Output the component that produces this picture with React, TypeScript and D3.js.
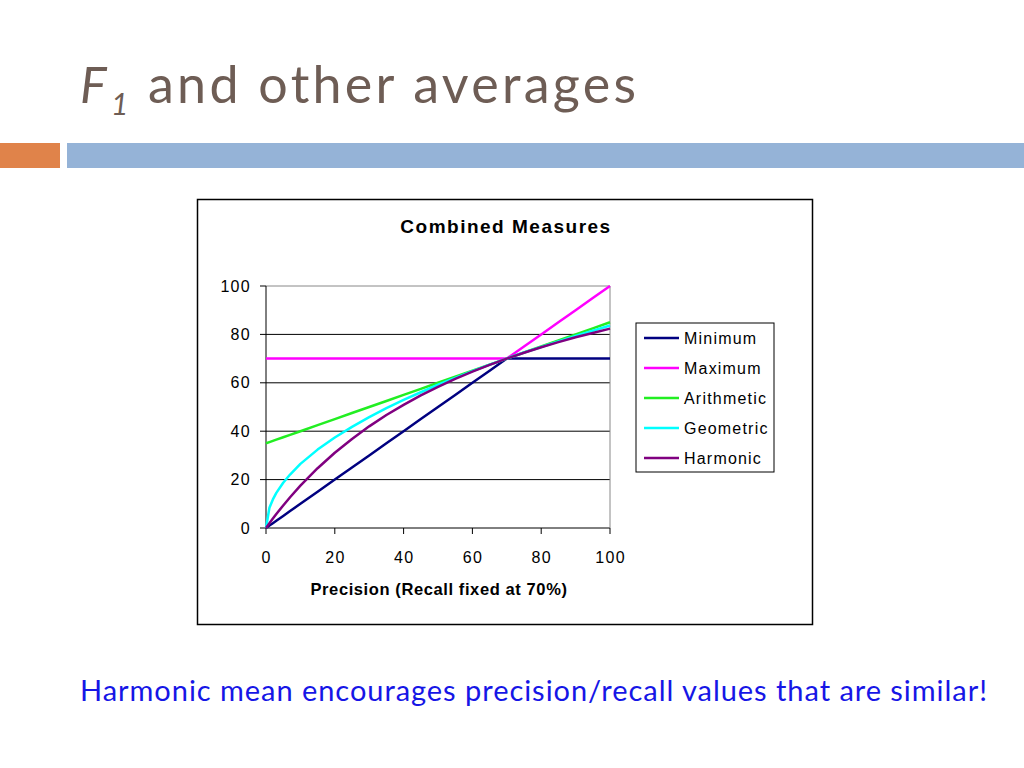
import React from "react";
import * as d3 from "d3";

const precision = [0, 1, 2, 3, 5, 7, 10, 15, 20, 25, 30, 35, 40, 45, 50, 55, 60, 65, 70, 75, 80, 85, 90, 95, 100];
const minimum = [0, 1, 2, 3, 5, 7, 10, 15, 20, 25, 30, 35, 40, 45, 50, 55, 60, 65, 70, 70, 70, 70, 70, 70, 70];
const maximum = [70, 70, 70, 70, 70, 70, 70, 70, 70, 70, 70, 70, 70, 70, 70, 70, 70, 70, 70, 75, 80, 85, 90, 95, 100];
const arithmetic = [35, 35.5, 36, 36.5, 37.5, 38.5, 40, 42.5, 45, 47.5, 50, 52.5, 55, 57.5, 60, 62.5, 65, 67.5, 70, 72.5, 75, 77.5, 80, 82.5, 85];
const geometric = [0, 8.4, 11.8, 14.5, 18.7, 22.1, 26.5, 32.4, 37.4, 41.8, 45.8, 49.5, 52.9, 56.1, 59.2, 62.0, 64.8, 67.5, 70, 72.5, 74.8, 77.1, 79.4, 81.5, 83.7];
const harmonic = [0, 2.0, 3.9, 5.8, 9.3, 12.7, 17.5, 24.7, 31.1, 36.8, 42.0, 46.7, 50.9, 54.8, 58.3, 61.6, 64.6, 67.4, 70, 72.4, 74.7, 76.8, 78.8, 80.6, 82.4];

const seriesNames = ["Minimum", "Maximum", "Arithmetic", "Geometric", "Harmonic"];
const seriesColors = ["#000080", "#FF00FF", "#22EE22", "#00FFFF", "#800080"];
const seriesValues = [minimum, maximum, arithmetic, geometric, harmonic];

const yTicks = [0, 20, 40, 60, 80, 100];
const xTicks = [0, 20, 40, 60, 80, 100];

export default function App() {
  const x = d3.scaleLinear().domain([0, 100]).range([266, 610]);
  const y = d3.scaleLinear().domain([0, 100]).range([528, 286]);
  const line = d3
    .line<number>()
    .x((_, i) => x(precision[i]))
    .y((v) => y(v));

  const axisFont = "'Liberation Sans', Arial, sans-serif";
  const titleFont = "'Lato', 'DejaVu Sans', sans-serif";

  return (
    <svg
      width={1024}
      height={768}
      style={{ position: "absolute", left: 0, top: 0, background: "#fff" }}
    >
      {/* slide title */}
      <text x={80} y={103} fontFamily={titleFont} fontSize={50} fill="#6E5D55" fontStyle="italic">
        F
      </text>
      <text x={111} y={115} fontFamily={titleFont} fontSize={30} fill="#6E5D55" fontStyle="italic">
        1
      </text>
      <text x={148} y={103} fontFamily={titleFont} fontSize={52} fill="#6E5D55" textLength={488} lengthAdjust="spacing">
        and other averages
      </text>
      <rect x={0} y={143} width={60} height={25} fill="#E0834A" />
      <rect x={67} y={143} width={957} height={25} fill="#95B3D7" />

      {/* chart frame */}
      <rect x={197.5} y={199.5} width={615} height={425} fill="#fff" stroke="#000" strokeWidth={1.5} />
      <text x={506} y={233} textAnchor="middle" fontFamily={axisFont} fontWeight="bold" fontSize={19} letterSpacing={1.5}>
        Combined Measures
      </text>

      {/* grid */}
      {yTicks.map((t) => (
        <line
          key={"g" + t}
          x1={x(0)}
          x2={x(100)}
          y1={y(t)}
          y2={y(t)}
          stroke={t === 100 ? "#888" : "#000"}
          strokeWidth={1}
        />
      ))}
      <line x1={x(100)} x2={x(100)} y1={y(100)} y2={y(0)} stroke="#888" strokeWidth={1} />

      {/* axes */}
      <line x1={x(0)} x2={x(0)} y1={y(100)} y2={y(0)} stroke="#000" strokeWidth={1} />
      {yTicks.map((t) => (
        <g key={"yt" + t}>
          <line x1={x(0) - 6} x2={x(0)} y1={y(t)} y2={y(t)} stroke="#000" />
          <text x={251} y={y(t) + 5.5} textAnchor="end" fontFamily={axisFont} fontSize={16} letterSpacing={1.3}>
            {t}
          </text>
        </g>
      ))}
      {xTicks.map((t) => (
        <g key={"xt" + t}>
          <line x1={x(t)} x2={x(t)} y1={y(0)} y2={y(0) + 6} stroke="#000" />
          <text x={x(t) + 0.6} y={563} textAnchor="middle" fontFamily={axisFont} fontSize={16} letterSpacing={1.3}>
            {t}
          </text>
        </g>
      ))}
      <text x={439} y={595} textAnchor="middle" fontFamily={axisFont} fontWeight="bold" fontSize={16.5} letterSpacing={0.6}>
        Precision (Recall fixed at 70%)
      </text>

      {/* series */}
      {seriesValues.map((vals, i) => (
        <path
          key={seriesNames[i]}
          d={line(vals) || ""}
          fill="none"
          stroke={seriesColors[i]}
          strokeWidth={2.5}
          strokeLinejoin="round"
        />
      ))}

      {/* legend */}
      <rect x={636} y={323} width={138} height={149} fill="#fff" stroke="#000" strokeWidth={1} />
      {seriesNames.map((n, i) => (
        <g key={"lg" + n}>
          <line x1={644} x2={679} y1={338 + i * 30} y2={338 + i * 30} stroke={seriesColors[i]} strokeWidth={2.5} />
          <text x={684} y={344 + i * 30} fontFamily={axisFont} fontSize={16} letterSpacing={1.2}>
            {n}
          </text>
        </g>
      ))}

      {/* footer */}
      <text x={80} y={701} fontFamily={titleFont} fontSize={29} fill="#1616E6" textLength={907} lengthAdjust="spacing">
        Harmonic mean encourages precision/recall values that are similar!
      </text>
    </svg>
  );
}
